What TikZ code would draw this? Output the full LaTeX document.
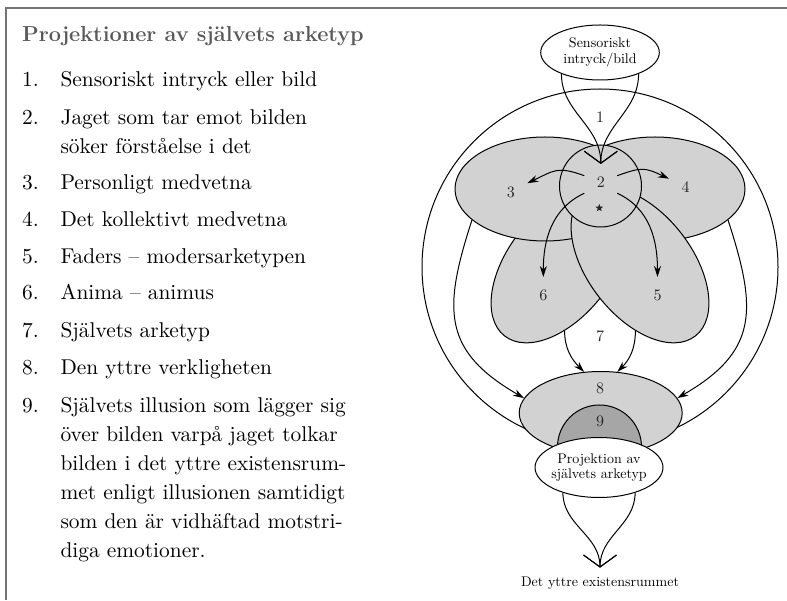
\documentclass[tikz,border=0pt]{standalone}
\usepackage{fontspec}
\setmainfont{lmroman10-regular.otf}[BoldFont=lmroman12-bold.otf]
\usetikzlibrary{arrows.meta,shapes.geometric}

\begin{document}
\begin{tikzpicture}[x=1pt,y=1pt,line width=1pt]
    \tikzstyle{blob}=[draw,shape=ellipse,fill=gray!35,inner sep=0,minimum width=180pt,minimum height=104pt]
    \tikzstyle{num}=[inner sep=12pt,font=\fontsize{16}{18}\selectfont,text=black!85]
    \tikzstyle{small}=[font=\fontsize{14}{15.5}\selectfont,align=center,text=black]
    \tikzstyle{item}=[anchor=base west,inner sep=0,font=\fontsize{21.4}{29}\selectfont,text=black]
    \tikzstyle{pil}=[-{Stealth[length=11pt,width=7pt]}]
    \tikzstyle{barb}=[-{Straight Barb[length=12pt,width=33pt]}]

    \useasboundingbox (0,0) rectangle (787,600);
    \draw[black!55,line width=1.3pt] (6,0) -- (6,592) -- (787,592);

    % list on the left
    \node[item,font=\fontsize{21.7}{29}\selectfont\bfseries,text=black!65] (title) at (21.7,558.3) {Projektioner av självets arketyp};
    \foreach \i/\y/\txt in {1/513/{Sensoriskt intryck eller bild},
        2/475/{Jaget som tar emot bilden\\söker förståelse i det},
        3/410.7/{Personligt medvetna},
        4/373.3/{Det kollektivt medvetna},
        5/336.7/{Faders -- modersarketypen},
        6/300/{Anima -- animus},
        7/262.7/{Självets arketyp},
        8/225/{Den yttre verkligheten},
        9/187.3/{Självets illusion som lägger sig\\över bilden varpå jaget tolkar\\bilden i det yttre existensrum-\\met enligt illusionen samtidigt\\som den är vidhäftad motstri-\\diga emotioner.}}{
        \node[item] (n\i) at (21.7,\y) {\i.};
        \node[item,text width=340pt,align=left] (t\i) at (60,\y) {\txt};
    }

    % the diagram
    \node[draw,circle,minimum size=356pt] (self) at (600,333) {};
    \node[blob,rotate=52] (e6) at (560,335) {};
    \node[blob] (e3) at (545,411) {};
    \node[blob] (e4) at (655,411) {};
    \node[blob,rotate=-52] (e5) at (640,335) {};
    \node[blob,shape=circle,minimum size=82pt] (e2) at (600.5,414) {};

    \node[num] (l1) at (600,482.8) {1};
    \node[num] (l2) at (600.8,418.3) {2};
    \node[num] (l3) at (510.8,407.3) {3};
    \node[num] (l4) at (685.5,412.5) {4};
    \node[num] (l5) at (657.5,305) {5};
    \node[num] (l6) at (543.3,305) {6};
    \node[num] (l7) at (600,263.3) {7};
    \node[star,star points=5,star point ratio=2.3,fill=black!85,inner sep=0,minimum size=8pt] (st) at (599.3,392) {};

    \node[blob,minimum width=163pt,minimum height=83pt] (e8) at (600.7,187) {};
    \node[draw,circle,fill=gray!70,minimum size=84pt] (e9) at (599.5,153) {};
    \node[num] (l8) at (600,211.7) {8};
    \node[num] (l9) at (600,178.3) {9};
    \node[draw,ellipse,fill=white,minimum width=128pt,minimum height=60pt,inner xsep=-12pt,inner ysep=0pt,small] (proj) at (599,132.5) {Projektion av\\självets arketyp};
    \node[draw,ellipse,fill=white,minimum width=118.6pt,minimum height=55pt,inner sep=0,small] (sens) at (600,547.5) {Sensoriskt\\intryck/bild};
    \node[small,anchor=base,inner sep=9pt] (rum) at (600,13.3) {Det yttre existensrummet};

    \draw[barb] (sens.209) to[out=-90,in=90] (l2.north);
    \draw[barb] (sens.331) to[out=-90,in=90] (l2.north);
    \draw[pil] (l2.160) to[out=160,in=25,looseness=1.3] (l3.30);
    \draw[pil] (l2.20) to[out=20,in=155,looseness=1.3] (l4.152);
    \draw[pil] (l2.215) to[out=205,in=90] (l6.north);
    \draw[pil] (l2.-35) to[out=-25,in=90] (l5.north);
    \draw[pil] (e3.203) to[out=-108,in=150,looseness=1.3] (e8.169);
    \draw[pil] (e4.337) to[out=-72,in=30,looseness=1.3] (e8.11);
    \draw[pil] (e6.222) to[out=-90,in=135] (e8.112);
    \draw[pil] (e5.318) to[out=-90,in=45] (e8.68);
    \draw[barb] (proj.215) to[out=-90,in=90] (rum.north);
    \draw[barb] (proj.325) to[out=-90,in=90] (rum.north);
\end{tikzpicture}
\end{document}
